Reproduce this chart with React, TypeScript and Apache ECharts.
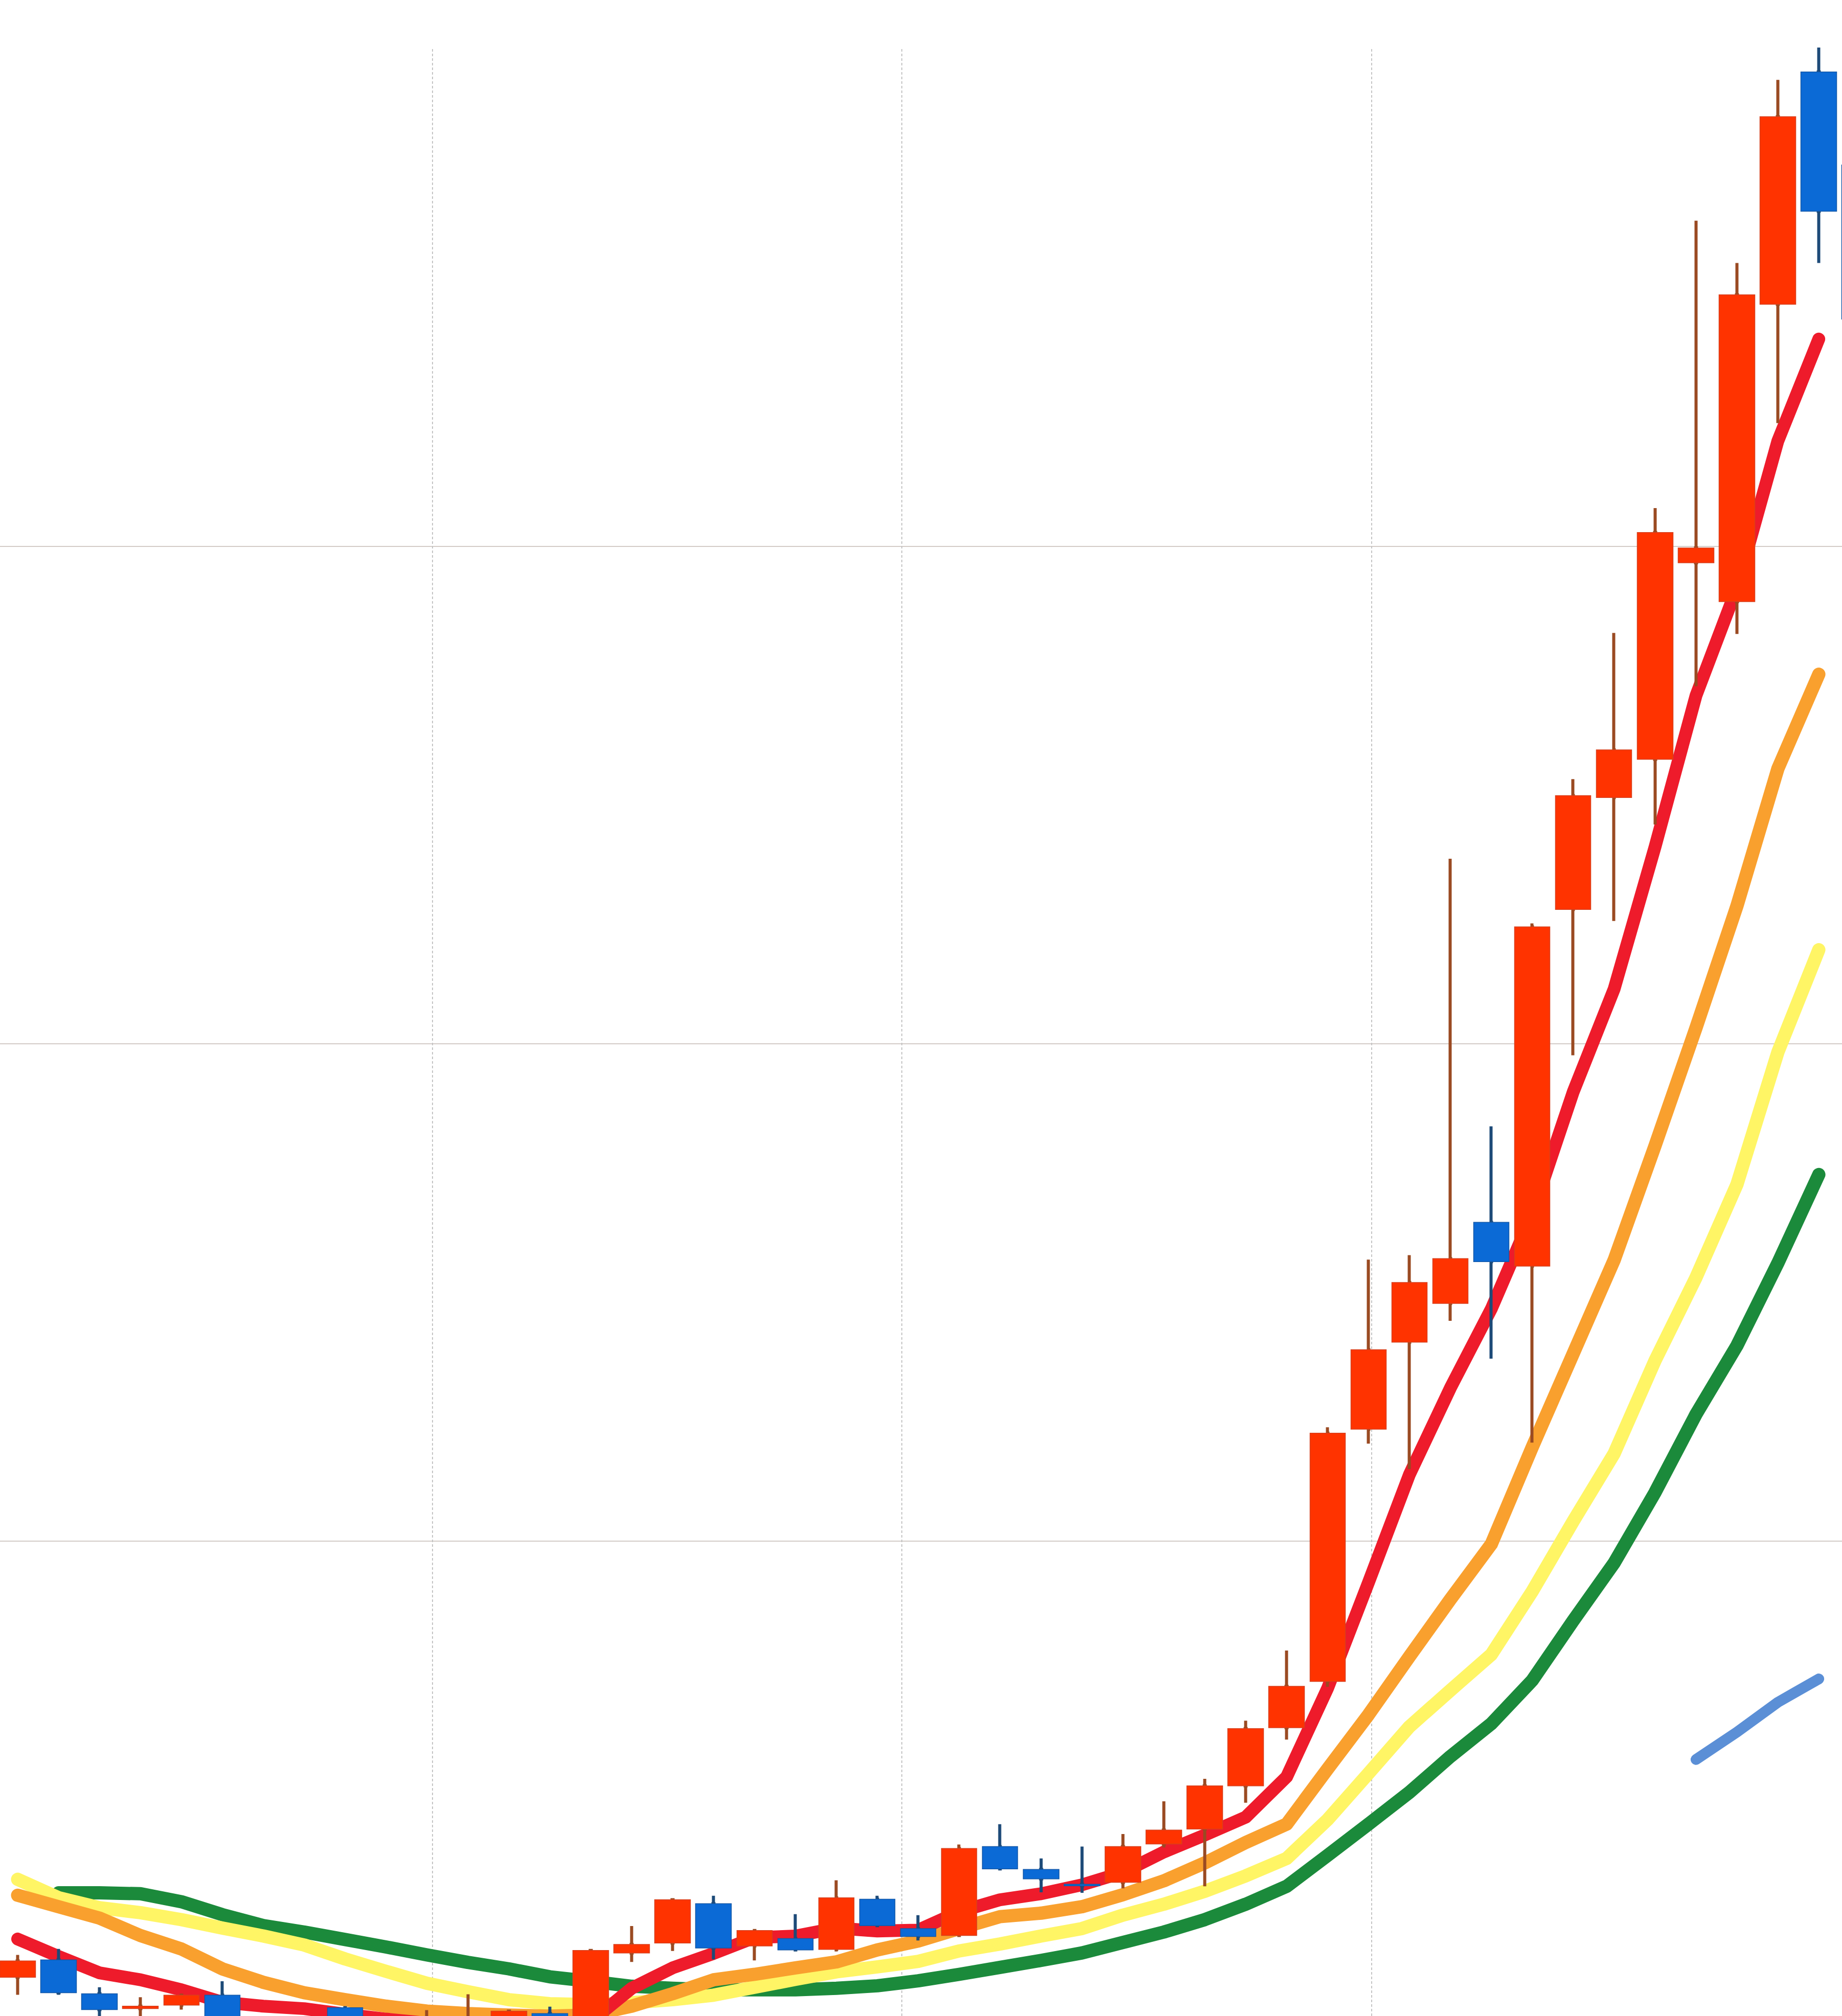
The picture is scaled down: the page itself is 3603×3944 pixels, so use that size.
import React, { useEffect, useRef } from "react";
import * as echarts from "echarts";

// 46 trading periods (last one only partly visible at the right edge)
const categories = [
  "1", "2", "3", "4", "5", "6", "7", "8", "9", "10",
  "11", "12", "13", "14", "15", "16", "17", "18", "19", "20",
  "21", "22", "23", "24", "25", "26", "27", "28", "29", "30",
  "31", "32", "33", "34", "35", "36", "37", "38", "39", "40",
  "41", "42", "43", "44", "45", "46",
];

const opens = [
  12.3, 15.8, 9.0, 6.0, 6.7, 8.7, 1.3, 3.4, 6.2, 1.3,
  1.8, 1.3, 2.9, 5.0, 0.5, 17.2, 19.2, 27.1, 18.6, 20.1,
  17.9, 28.0, 22.1, 20.7, 38.6, 34.0, 31.0, 31.4, 39.1, 42.1,
  50.8, 62.5, 71.8, 122.5, 140.0, 147.8, 164.1, 155.3, 227.0, 249.5,
  257.2, 296.7, 288.9, 348.7, 395.4, 376.7,
];
const closes = [
  15.6, 9.2, 5.8, 6.5, 8.7, 3.4, 3.4, 1.3, 2.9, 3.9,
  3.9, 3.4, 5.5, 2.9, 17.7, 18.9, 27.9, 18.2, 21.7, 17.8,
  28.3, 22.7, 20.5, 38.2, 34.1, 32.1, 30.7, 38.6, 41.9, 50.8,
  62.3, 70.8, 121.7, 138.5, 152.0, 156.8, 156.2, 223.5, 249.9, 259.1,
  302.8, 299.7, 350.6, 386.4, 367.4, 345.7,
];
const lows = [
  8.8, 8.8, 3.9, 3.4, 5.8, 2.4, 0.3, 0.3, 1.8, 0.3,
  0.8, 0.3, 1.8, 1.8, 0.2, 15.4, 17.6, 15.9, 15.7, 17.5,
  17.5, 22.4, 19.7, 20.5, 34.0, 29.4, 29.3, 30.2, 38.4, 30.6,
  47.4, 60.1, 70.7, 119.6, 114.5, 144.3, 136.7, 119.8, 197.7, 224.7,
  244.1, 271.9, 282.4, 324.8, 357.0, 337.9,
];
const highs = [
  16.8, 18.0, 10.3, 8.3, 8.9, 11.5, 3.9, 4.1, 6.3, 4.3,
  5.7, 8.9, 5.6, 6.4, 18.0, 22.6, 28.0, 28.7, 21.8, 25.0,
  31.8, 28.7, 24.8, 39.0, 43.1, 36.2, 38.6, 41.1, 47.7, 52.2,
  63.9, 78.0, 122.9, 156.6, 157.5, 237.2, 183.4, 224.2, 253.2, 282.6,
  307.7, 365.5, 357.0, 393.8, 400.3, 381.1,
];

const ma5 = [
  20.0, 16.5, 13.2, 11.8, 9.8, 7.3, 6.5, 6.0, 4.9, 3.9,
  3.1, 2.7, 2.7, 2.9, 3.4, 10.1, 14.2, 17.1, 20.3, 20.6,
  22.2, 21.6, 21.8, 25.5, 27.9, 29.1, 30.9, 33.4, 37.5, 40.9,
  44.5, 52.6, 70.4, 91.7, 113.4, 130.8, 146.7, 165.8, 190.3, 211.0,
  239.6, 270.0, 291.7, 321.2, 341.7, null,
];
const ma10 = [
  28.8, 26.5, 24.2, 20.7, 18.0, 14.0, 11.3, 9.2, 7.8, 6.5,
  5.5, 5.0, 4.7, 4.5, 4.7, 6.5, 9.0, 11.8, 12.9, 14.2,
  15.4, 17.8, 19.6, 22.1, 24.5, 25.2, 26.5, 28.9, 31.7, 35.3,
  39.4, 43.1, 54.2, 65.1, 76.8, 88.3, 99.4, 118.9, 137.7, 156.5,
  179.5, 203.2, 227.7, 255.3, 274.3, null,
];
const ma20 = [
  32.0, 28.3, 26.3, 25.3, 23.9, 22.2, 20.6, 18.8, 16.0, 13.5,
  11.1, 9.4, 7.8, 7.0, 6.8, 7.2, 7.8, 8.7, 10.3, 11.9,
  13.4, 14.4, 15.5, 17.6, 19.0, 20.6, 22.1, 24.8, 27.0, 29.6,
  32.7, 36.2, 44.0, 53.3, 62.7, 70.0, 77.2, 89.9, 104.0, 117.6,
  136.3, 153.0, 171.7, 198.3, 218.9, null,
];
const ma30 = [
  null, 29.3, 29.3, 29.1, 27.5, 24.9, 22.7, 21.4, 19.9, 18.4,
  16.8, 15.3, 14.0, 12.4, 11.5, 10.5, 10.1, 9.8, 9.8, 9.8,
  10.1, 10.6, 11.6, 12.9, 14.3, 15.7, 17.2, 19.3, 21.4, 23.9,
  27.0, 30.6, 36.8, 43.1, 49.5, 56.7, 63.3, 72.0, 84.0, 95.6,
  109.8, 125.5, 139.3, 155.9, 173.7, null,
];
const ma60 = [
  null, null, null, null, null, null, null, null, null, null,
  null, null, null, null, null, null, null, null, null, null,
  null, null, null, null, null, null, null, null, null, null,
  null, null, null, null, null, null, null, null, null, null,
  null, 56.1, 61.6, 67.6, 72.3, null,
];

const UP = "#ff3300";
const DOWN = "#0b6ad6";
const UP_WICK = "#9a4a22";
const DOWN_WICK = "#1d4a78";

function lineSeries(name: string, data: (number | null)[], color: string, width: number) {
  return {
    name,
    type: "line",
    data,
    xAxisIndex: 0,
    yAxisIndex: 0,
    showSymbol: false,
    symbol: "none",
    connectNulls: false,
    silent: true,
    z: 2,
    lineStyle: { color, width, cap: "round", join: "round" },
  };
}

export default function App() {
  const ref = useRef<HTMLDivElement>(null);
  useEffect(() => {
    const chart = echarts.init(ref.current as HTMLDivElement, null, { renderer: "svg" });
    const ohlc = categories.map((_, i) => [opens[i], closes[i], lows[i], highs[i]]);
    const bodies = categories.map((_, i) => [
      opens[i],
      closes[i],
      Math.min(opens[i], closes[i]),
      Math.max(opens[i], closes[i]),
    ]);
    chart.setOption({
      animation: false,
      backgroundColor: "#ffffff",
      grid: [
        { left: -5.5, right: -74.7, top: 96, bottom: -44, containLabel: false, outerBoundsMode: "none" },
        { left: -73, width: 3674, top: 96, bottom: -44, containLabel: false, outerBoundsMode: "none" },
      ],
      xAxis: [
        {
          type: "category",
          gridIndex: 0,
          data: categories,
          boundaryGap: true,
          axisLine: { show: false },
          axisTick: { show: false },
          axisLabel: { show: false },
          splitLine: { show: false },
        },
        {
          type: "value",
          gridIndex: 1,
          min: 0,
          max: 4,
          interval: 1,
          axisLine: { show: false },
          axisTick: { show: false },
          axisLabel: { show: false },
          splitLine: {
            show: true,
            showMinLine: false,
            showMaxLine: false,
            lineStyle: { color: "#c4c4c4", width: 2, type: [5, 4] },
          },
        },
      ],
      yAxis: [
        {
          type: "value",
          gridIndex: 0,
          min: 0,
          max: 400,
          interval: 100,
          axisLine: { show: false },
          axisTick: { show: false },
          axisLabel: { show: false },
          splitLine: {
            show: true,
            showMinLine: false,
            showMaxLine: false,
            lineStyle: { color: "#d3cbc7", width: 2 },
          },
        },
        {
          type: "value",
          gridIndex: 1,
          min: 0,
          max: 1,
          axisLine: { show: false },
          axisTick: { show: false },
          axisLabel: { show: false },
          splitLine: { show: false },
        },
      ],
      series: [
        lineSeries("MA60", ma60, "#5b8fd6", 21),
        lineSeries("MA30", ma30, "#1b8a3b", 26),
        lineSeries("MA20", ma20, "#fff565", 26),
        lineSeries("MA10", ma10, "#f9a02e", 26),
        lineSeries("MA5", ma5, "#ee1b2b", 25),
        {
          name: "wick",
          type: "candlestick",
          data: ohlc,
          barWidth: 2,
          silent: true,
          z: 3,
          itemStyle: {
            color: UP_WICK,
            color0: DOWN_WICK,
            borderColor: UP_WICK,
            borderColor0: DOWN_WICK,
            borderWidth: 6,
          },
        },
        {
          name: "body",
          type: "candlestick",
          data: bodies,
          barWidth: 70,
          silent: true,
          z: 4,
          itemStyle: {
            color: UP,
            color0: DOWN,
            borderColor: "#d8401c",
            borderColor0: "#1559a8",
            borderWidth: 1.5,
          },
        },
      ],
    });
    return () => chart.dispose();
  }, []);
  return (
    <div
      ref={ref}
      style={{ position: "absolute", left: 0, top: 0, width: 3603, height: 3944 }}
    />
  );
}
